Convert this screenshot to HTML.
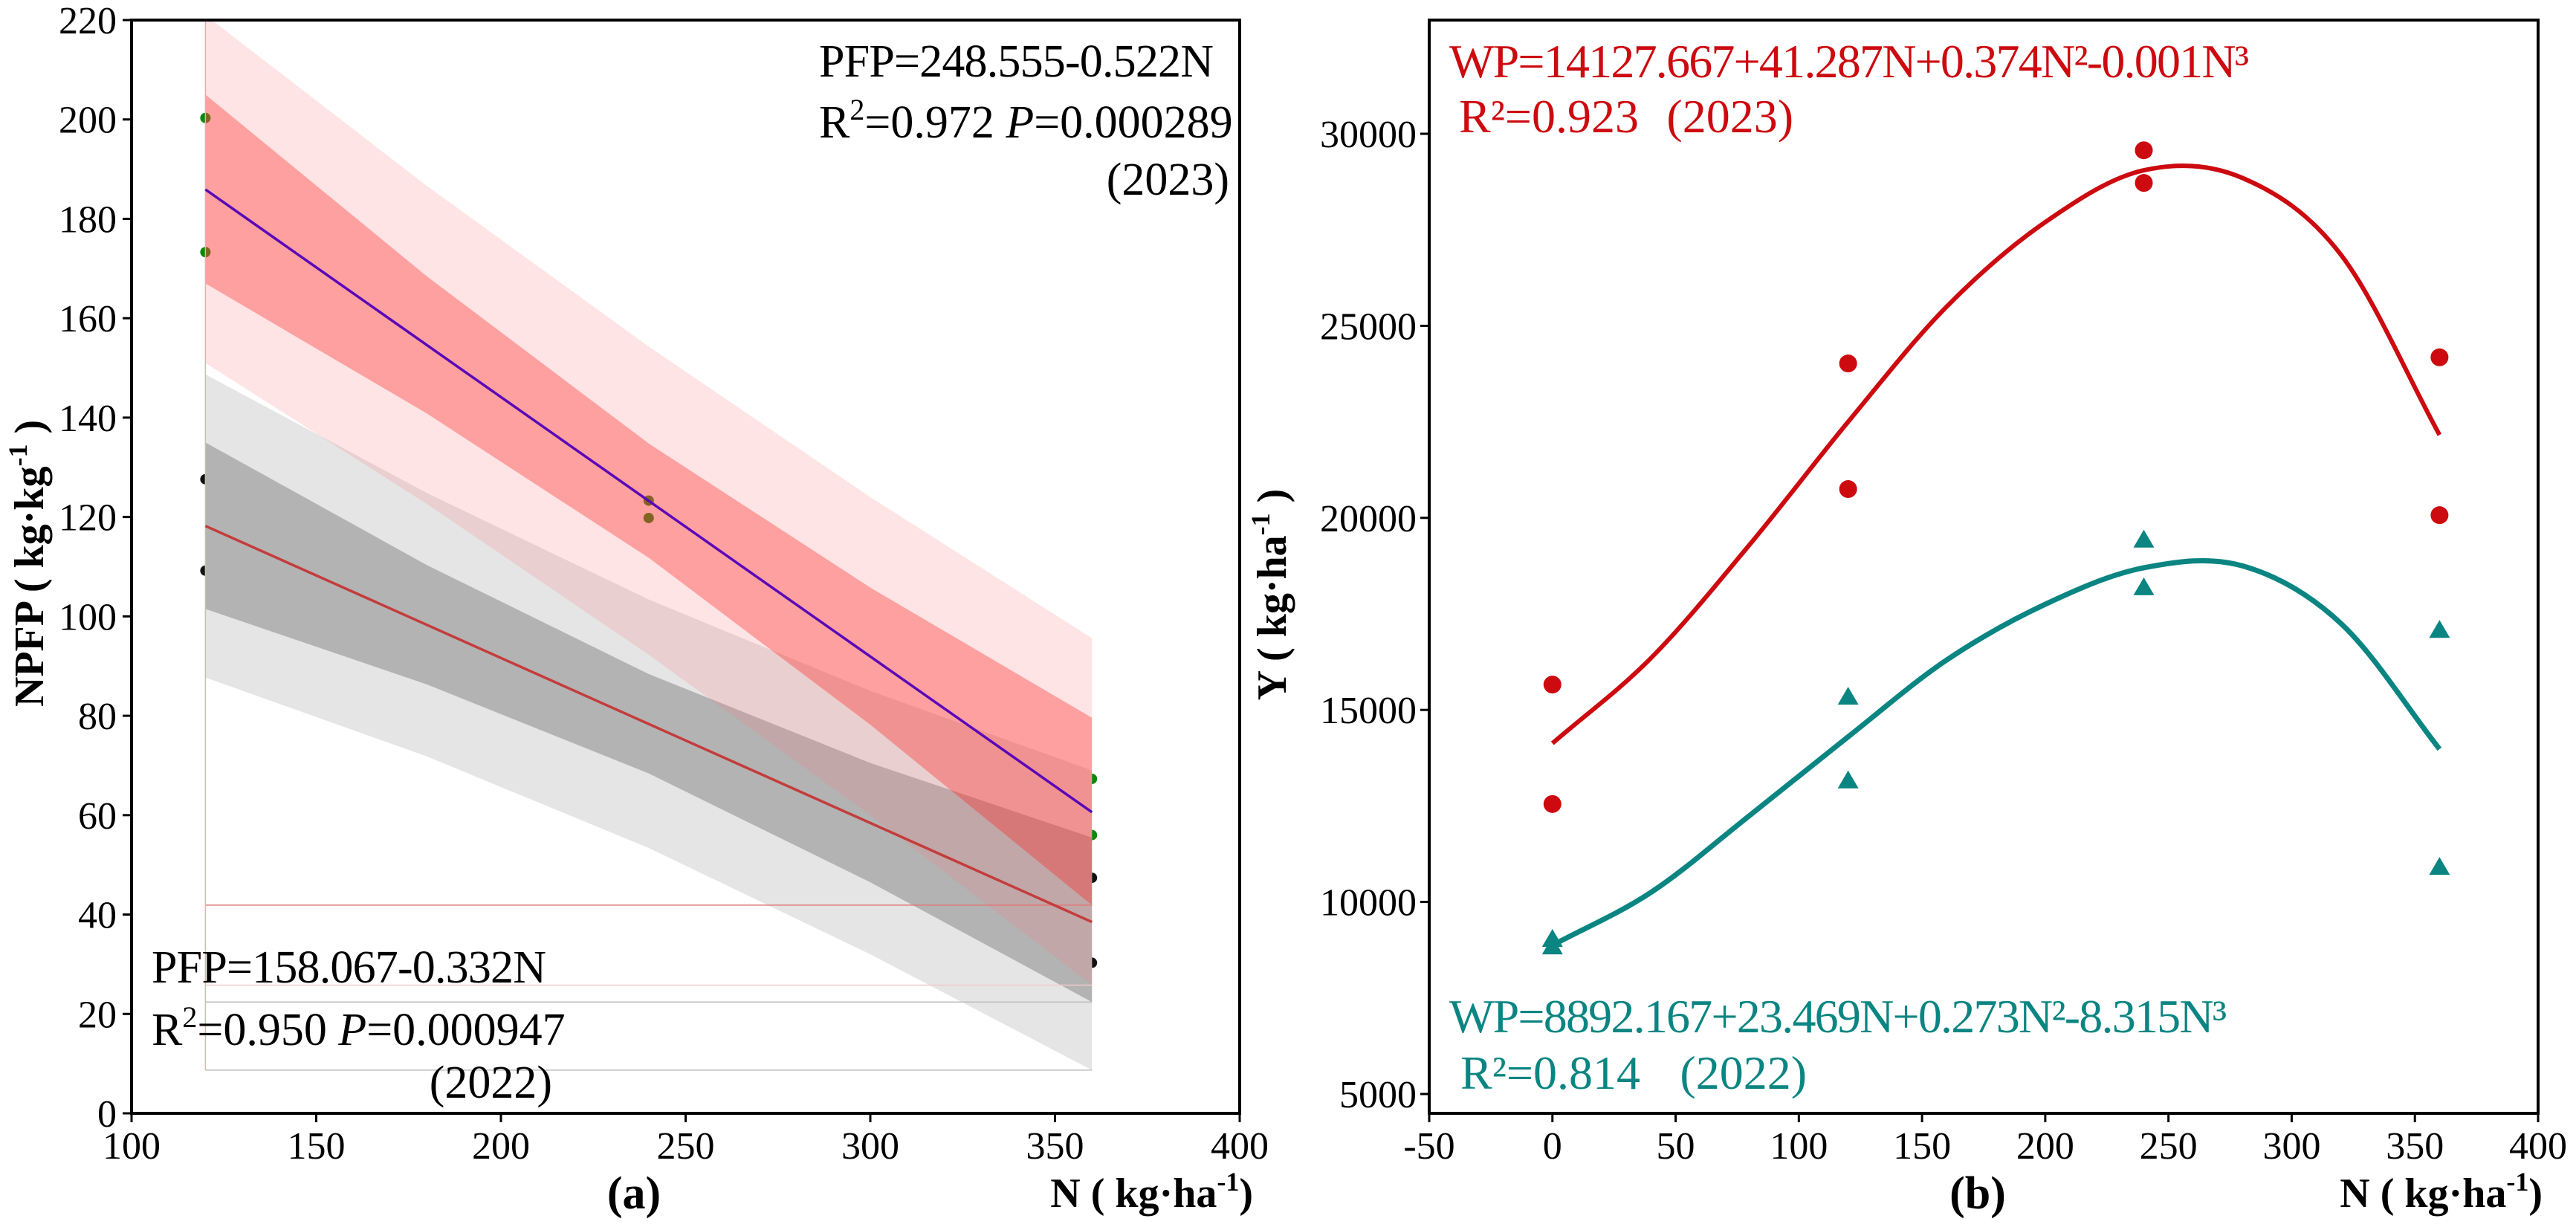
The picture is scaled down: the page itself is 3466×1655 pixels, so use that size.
<!DOCTYPE html>
<html><head><meta charset="utf-8">
<style>
html,body{margin:0;padding:0;background:#fff;}
svg, svg text{font-family:"Liberation Serif","Times New Roman",serif;}
</style></head>
<body>
<svg id="fig" width="3466" height="1650" viewBox="0 0 3466 1650" xmlns="http://www.w3.org/2000/svg" font-family="Liberation Serif, serif">
<defs>
<clipPath id="clipA"><rect x="177" y="27" width="1491" height="1471"/></clipPath>
</defs>
<g id="panelA"></g>
<g id="panelB"></g>
</svg>
<script>
// ---------- Panel (a) data ----------
const aXTicks = [100,150,200,250,300,350,400];
const aYTicks = [0,20,40,60,80,100,120,140,160,180,200,220];
const bandX = [120,180,240,300,360];
const pred23Upper = [221,186.6,154.3,124,95.6];
const pred23Lower = [151,122.6,92.3,60,25.8];
const conf23Upper = [205,168.4,134.8,105.8,79.6];
const conf23Lower = [167,140.8,111.8,78.2,41.9];
const pred22Upper = [148.7,124.8,103.4,85,69];
const pred22Lower = [87.7,71.8,53.4,32,8.7];
const conf22Upper = [135,110.3,88.4,70.5,55.5];
const conf22Lower = [101.5,86.3,68.4,46.5,22.4];
const fitX = [120,360];
const fit23 = [185.9,60.6];
const fit22 = [118.2,38.5];
const ptsX = [120,120,240,240,360,360];
const pts23 = [200.3,173.3,123.3,119.8,67.3,56.0];
const pts22 = [127.6,109.2,81.0,75.8,47.4,30.3];
const faintLines = [41.9,25.8,22.4,8.7];

// ---------- Panel (b) data ----------
const bXTicks = [-50,0,50,100,150,200,250,300,350,400];
const bYTicks = [5000,10000,15000,20000,25000,30000];
const bPtsX = [0,0,120,120,240,240,360,360];
const wp23 = [15660,12550,24020,20750,29570,28720,24180,20070];
const wp22 = [9025,8830,15330,13150,19420,18180,17070,10900];
const curveX = [0,40,80,120,160,200,240,280,320,360];
const curve23 = [14130,16350,19300,22500,25500,27700,29050,28850,26850,22160];
const curve22 = [8870,10250,12250,14300,16300,17750,18700,18750,17250,13980];

const NS = "http://www.w3.org/2000/svg";
function mk(tag, attrs, parent){
  const e = document.createElementNS(NS, tag);
  for (const k in attrs) e.setAttribute(k, attrs[k]);
  parent.appendChild(e);
  return e;
}
const AX = v => 177 + (v-100)*(1491/300);
const AY = v => 1498 - v*(1471/220);
const BX = v => 1923 + (v+50)*(1492/450);
const BY = v => 180 + (30000-v)*(1292/25000);

const A = document.getElementById('panelA');
const B = document.getElementById('panelB');

const plotA = mk('g', {'clip-path':'url(#clipA)'}, A);



function bandPath(up, lo){
  let d = '';
  bandX.forEach((x,i)=>{ d += (i?'L':'M') + AX(x) + ',' + AY(up[i]) + ' '; });
  for (let i=bandX.length-1;i>=0;i--) d += 'L' + AX(bandX[i]) + ',' + AY(lo[i]) + ' ';
  return d + 'Z';
}
ptsX.forEach((x,i)=>{
  const c = mk('circle', {cx:AX(x), cy:AY(pts23[i]), r:7, fill:'#0a8a0a'}, plotA);
  
  
  const c2 = mk('circle', {cx:AX(x), cy:AY(pts22[i]), r:7, fill:'#111'}, plotA);
  
  
});
let e;
e = mk('path', {d:bandPath(pred22Upper,pred22Lower), fill:'#e5e5e5'}, plotA);


e = mk('path', {d:bandPath(conf22Upper,conf22Lower), fill:'#b3b3b3'}, plotA);


e = mk('path', {d:bandPath(pred23Upper,pred23Lower), fill:'rgba(250,120,120,0.2)'}, plotA);


e = mk('path', {d:bandPath(conf23Upper,conf23Lower), fill:'rgba(255,40,40,0.36)'}, plotA);


faintLines.forEach((v,i)=>{
  const l = mk('line', {x1:AX(120), x2:AX(360), y1:AY(v), y2:AY(v), stroke: i===0?'#e07a7a':(i===1?'#f0caca':'#bdbdbd'), 'stroke-width':1.5}, plotA);
  
  
});
e = mk('line', {x1:AX(120), x2:AX(120), y1:AY(220), y2:AY(8.7), stroke:'#e6b0b0', 'stroke-width':1.5}, plotA);


e = mk('line', {x1:AX(fitX[0]), y1:AY(fit23[0]), x2:AX(fitX[1]), y2:AY(fit23[1]), stroke:'#5a06b8', 'stroke-width':3.5}, plotA);


e = mk('line', {x1:AX(fitX[0]), y1:AY(fit22[0]), x2:AX(fitX[1]), y2:AY(fit22[1]), stroke:'#c43c3c', 'stroke-width':3.5}, plotA);



e = mk('rect', {x:177, y:27, width:1491, height:1471, fill:'none', stroke:'#000', 'stroke-width':4}, A);


aXTicks.forEach(v=>{
  const t = mk('line', {x1:AX(v), x2:AX(v), y1:1498, y2:1510, stroke:'#000', 'stroke-width':3}, A);
  
  
  const tx = mk('text', {x:AX(v), y:1559, 'font-size':52, 'text-anchor':'middle'}, A);
  tx.textContent = v;
  
  
});
aYTicks.forEach(v=>{
  const t = mk('line', {x1:165, x2:177, y1:AY(v), y2:AY(v), stroke:'#000', 'stroke-width':3}, A);
  
  
  const tx = mk('text', {x:157, y:AY(v)+18, 'font-size':52, 'text-anchor':'end'}, A);
  tx.textContent = v;
  
  
});

e = mk('rect', {x:1923, y:27, width:1492, height:1471, fill:'none', stroke:'#000', 'stroke-width':4}, B);


bXTicks.forEach(v=>{
  const t = mk('line', {x1:BX(v), x2:BX(v), y1:1498, y2:1510, stroke:'#000', 'stroke-width':3}, B);
  
  
  const tx = mk('text', {x:BX(v), y:1559, 'font-size':52, 'text-anchor':'middle'}, B);
  tx.textContent = v;
  
  
});
bYTicks.forEach(v=>{
  const t = mk('line', {x1:1911, x2:1923, y1:BY(v), y2:BY(v), stroke:'#000', 'stroke-width':3}, B);
  
  
  const tx = mk('text', {x:1906, y:BY(v)+18, 'font-size':52, 'text-anchor':'end'}, B);
  tx.textContent = v;
  
  
});
function smooth(xs, ys){
  const P = xs.map((x,i)=>[BX(x), BY(ys[i])]);
  let d = 'M' + P[0][0] + ',' + P[0][1];
  for (let i=0;i<P.length-1;i++){
    const p0 = i>0 ? P[i-1] : [2*P[0][0]-P[1][0], 2*P[0][1]-P[1][1]];
    const p1 = P[i], p2 = P[i+1];
    const p3 = i+2<P.length ? P[i+2] : [2*P[i+1][0]-P[i][0], 2*P[i+1][1]-P[i][1]];
    const c1 = [p1[0]+(p2[0]-p0[0])/6, p1[1]+(p2[1]-p0[1])/6];
    const c2 = [p2[0]-(p3[0]-p1[0])/6, p2[1]-(p3[1]-p1[1])/6];
    d += ' C' + c1[0] + ',' + c1[1] + ' ' + c2[0] + ',' + c2[1] + ' ' + p2[0] + ',' + p2[1];
  }
  return d;
}
e = mk('path', {d:smooth(curveX,curve23), fill:'none', stroke:'#cc0a0f', 'stroke-width':6}, B);


e = mk('path', {d:smooth(curveX,curve22), fill:'none', stroke:'#0a8582', 'stroke-width':7}, B);


bPtsX.forEach((x,i)=>{
  const c = mk('circle', {cx:BX(x), cy:BY(wp23[i]), r:12, fill:'#cc0a0f'}, B);
  
  
  const cx = BX(x), cy = BY(wp22[i]);
  const t = mk('polygon', {points:(cx)+','+(cy-14)+' '+(cx-14)+','+(cy+10)+' '+(cx+14)+','+(cy+10), fill:'#0a8582'}, B);
  
  
});
</script>
<script>
(function(){
  const svg = document.getElementById('fig');
  const html = `
  <text x="1102" y="103" font-size="62" textLength="531">PFP=248.555-0.522N</text>
  <text x="1102" y="185" font-size="62">R<tspan font-size="40" dy="-24">2</tspan><tspan dy="24">=0.972 </tspan><tspan font-style="italic">P</tspan>=0.000289</text>
  <text x="1654" y="262" font-size="62" text-anchor="end">(2023)</text>
  <text x="204" y="1322" font-size="62" textLength="531">PFP=158.067-0.332N</text>
  <text x="204" y="1406" font-size="62">R<tspan font-size="40" dy="-24">2</tspan><tspan dy="24">=0.950 </tspan><tspan font-style="italic">P</tspan>=0.000947</text>
  <text x="743" y="1477" font-size="62" text-anchor="end">(2022)</text>
  <text transform="translate(58,758) rotate(-90)" font-size="56" font-weight="bold" text-anchor="middle">NPFP ( kg·kg<tspan font-size="36" dy="-22">-1</tspan><tspan dy="22"> )</tspan></text>
  <text x="1686" y="1624" font-size="56" font-weight="bold" text-anchor="end">N ( kg·ha<tspan font-size="36" dy="-22">-1</tspan><tspan dy="22">)</tspan></text>
  <text x="853" y="1626" font-size="62" font-weight="bold" text-anchor="middle">(a)</text>
  <text x="1950" y="104" font-size="64" fill="#cc0a0f" textLength="1076">WP=14127.667+41.287N+0.374N²-0.001N³</text>
  <text x="1963" y="178" font-size="64" fill="#cc0a0f">R²=0.923</text>
  <text x="2413" y="178" font-size="64" fill="#cc0a0f" text-anchor="end">(2023)</text>
  <text x="1950" y="1389" font-size="64" fill="#0a8582" textLength="1046">WP=8892.167+23.469N+0.273N²-8.315N³</text>
  <text x="1965" y="1465" font-size="64" fill="#0a8582">R²=0.814</text>
  <text x="2431" y="1465" font-size="64" fill="#0a8582" text-anchor="end">(2022)</text>
  <text transform="translate(1730,800) rotate(-90)" font-size="56" font-weight="bold" text-anchor="middle">Y ( kg·ha<tspan font-size="36" dy="-22">-1</tspan><tspan dy="22"> )</tspan></text>
  <text x="3421" y="1624" font-size="56" font-weight="bold" text-anchor="end">N ( kg·ha<tspan font-size="36" dy="-22">-1</tspan><tspan dy="22">)</tspan></text>
  <text x="2661" y="1626" font-size="62" font-weight="bold" text-anchor="middle">(b)</text>`;
  const g = document.createElementNS("http://www.w3.org/2000/svg",'g');
  
  
  g.innerHTML = html;
  svg.appendChild(g);
})();
</script>
</body></html>
